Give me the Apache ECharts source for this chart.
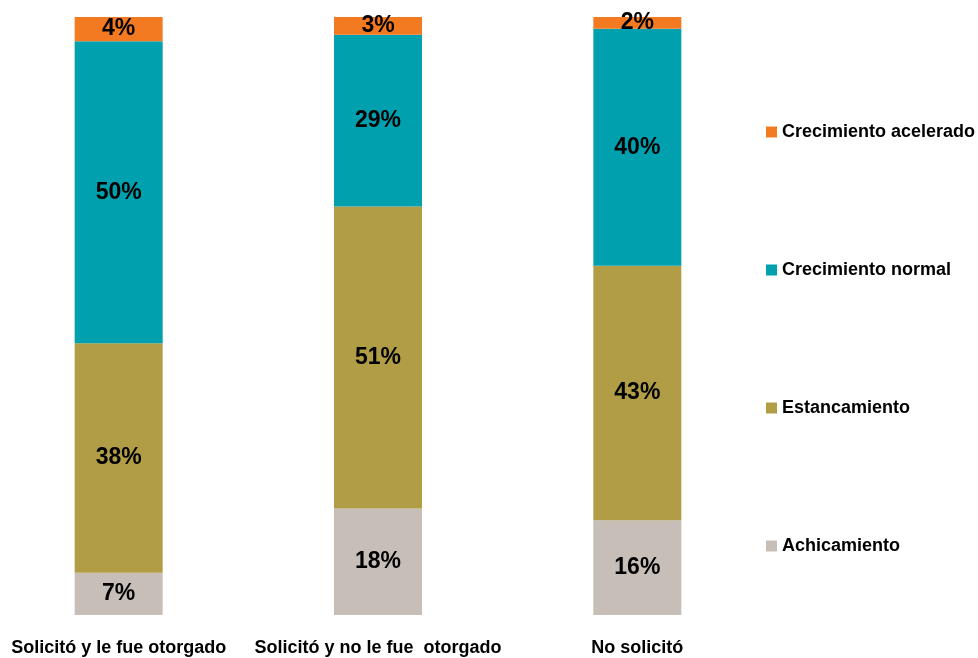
<!DOCTYPE html>
<html><head><meta charset="utf-8">
<script src="https://cdn.jsdelivr.net/npm/echarts@6/dist/echarts.min.js"></script>
<style>html,body{margin:0;padding:0;background:#fff}#c{width:978px;height:658px}</style>
</head><body><div id="c"></div>
<script>
const categories = ['Solicitó y le fue otorgado', 'Solicitó y no le fue  otorgado', 'No solicitó'];
const achicamiento = [7, 18, 16];
const estancamiento = [38, 51, 43];
const crecNormal = [50, 29, 40];
const crecAcelerado = [4, 3, 2];
const seriesNames = ['Achicamiento', 'Estancamiento', 'Crecimiento normal', 'Crecimiento acelerado'];
const colors = ['#C6BEB7', '#B19D45', '#00A0AF', '#F47A22'];

const raw = [achicamiento, estancamiento, crecNormal, crecAcelerado];
const totals = categories.map((_, i) => raw.reduce((s, a) => s + a[i], 0));
const FONT = '"Liberation Sans", Arial, sans-serif';

const chart = echarts.init(document.getElementById('c'));
chart.setOption({
  animation: false,
  grid: { left: -11, width: 778, top: 17, bottom: 43, containLabel: false, outerBoundsMode: 'none' },
  legend: {
    orient: 'vertical', left: 761, top: 116,
    itemWidth: 11, itemHeight: 11, itemGap: 116, icon: 'rect',
    data: seriesNames.slice().reverse(),
    textStyle: { fontFamily: FONT, fontWeight: 'bold', fontSize: 18, color: '#000', lineHeight: 22 }
  },
  xAxis: {
    type: 'category', data: categories,
    axisLine: { show: false }, axisTick: { show: false },
    axisLabel: { interval: 0, margin: 24, fontFamily: FONT, fontWeight: 'bold', fontSize: 18, color: '#000', hideOverlap: false }
  },
  yAxis: { type: 'value', min: 0, max: 100, show: false, splitLine: { show: false } },
  series: raw.map((arr, k) => ({
    name: seriesNames[k], type: 'bar', stack: 'total', barWidth: 88,
    itemStyle: { color: colors[k] },
    data: arr.map((v, i) => v / totals[i] * 100),
    label: {
      show: true, position: 'inside',
      formatter: p => raw[k][p.dataIndex] + '%',
      fontFamily: FONT, fontWeight: 'bold', fontSize: 23, color: '#000'
    }
  }))
});
</script></body></html>
